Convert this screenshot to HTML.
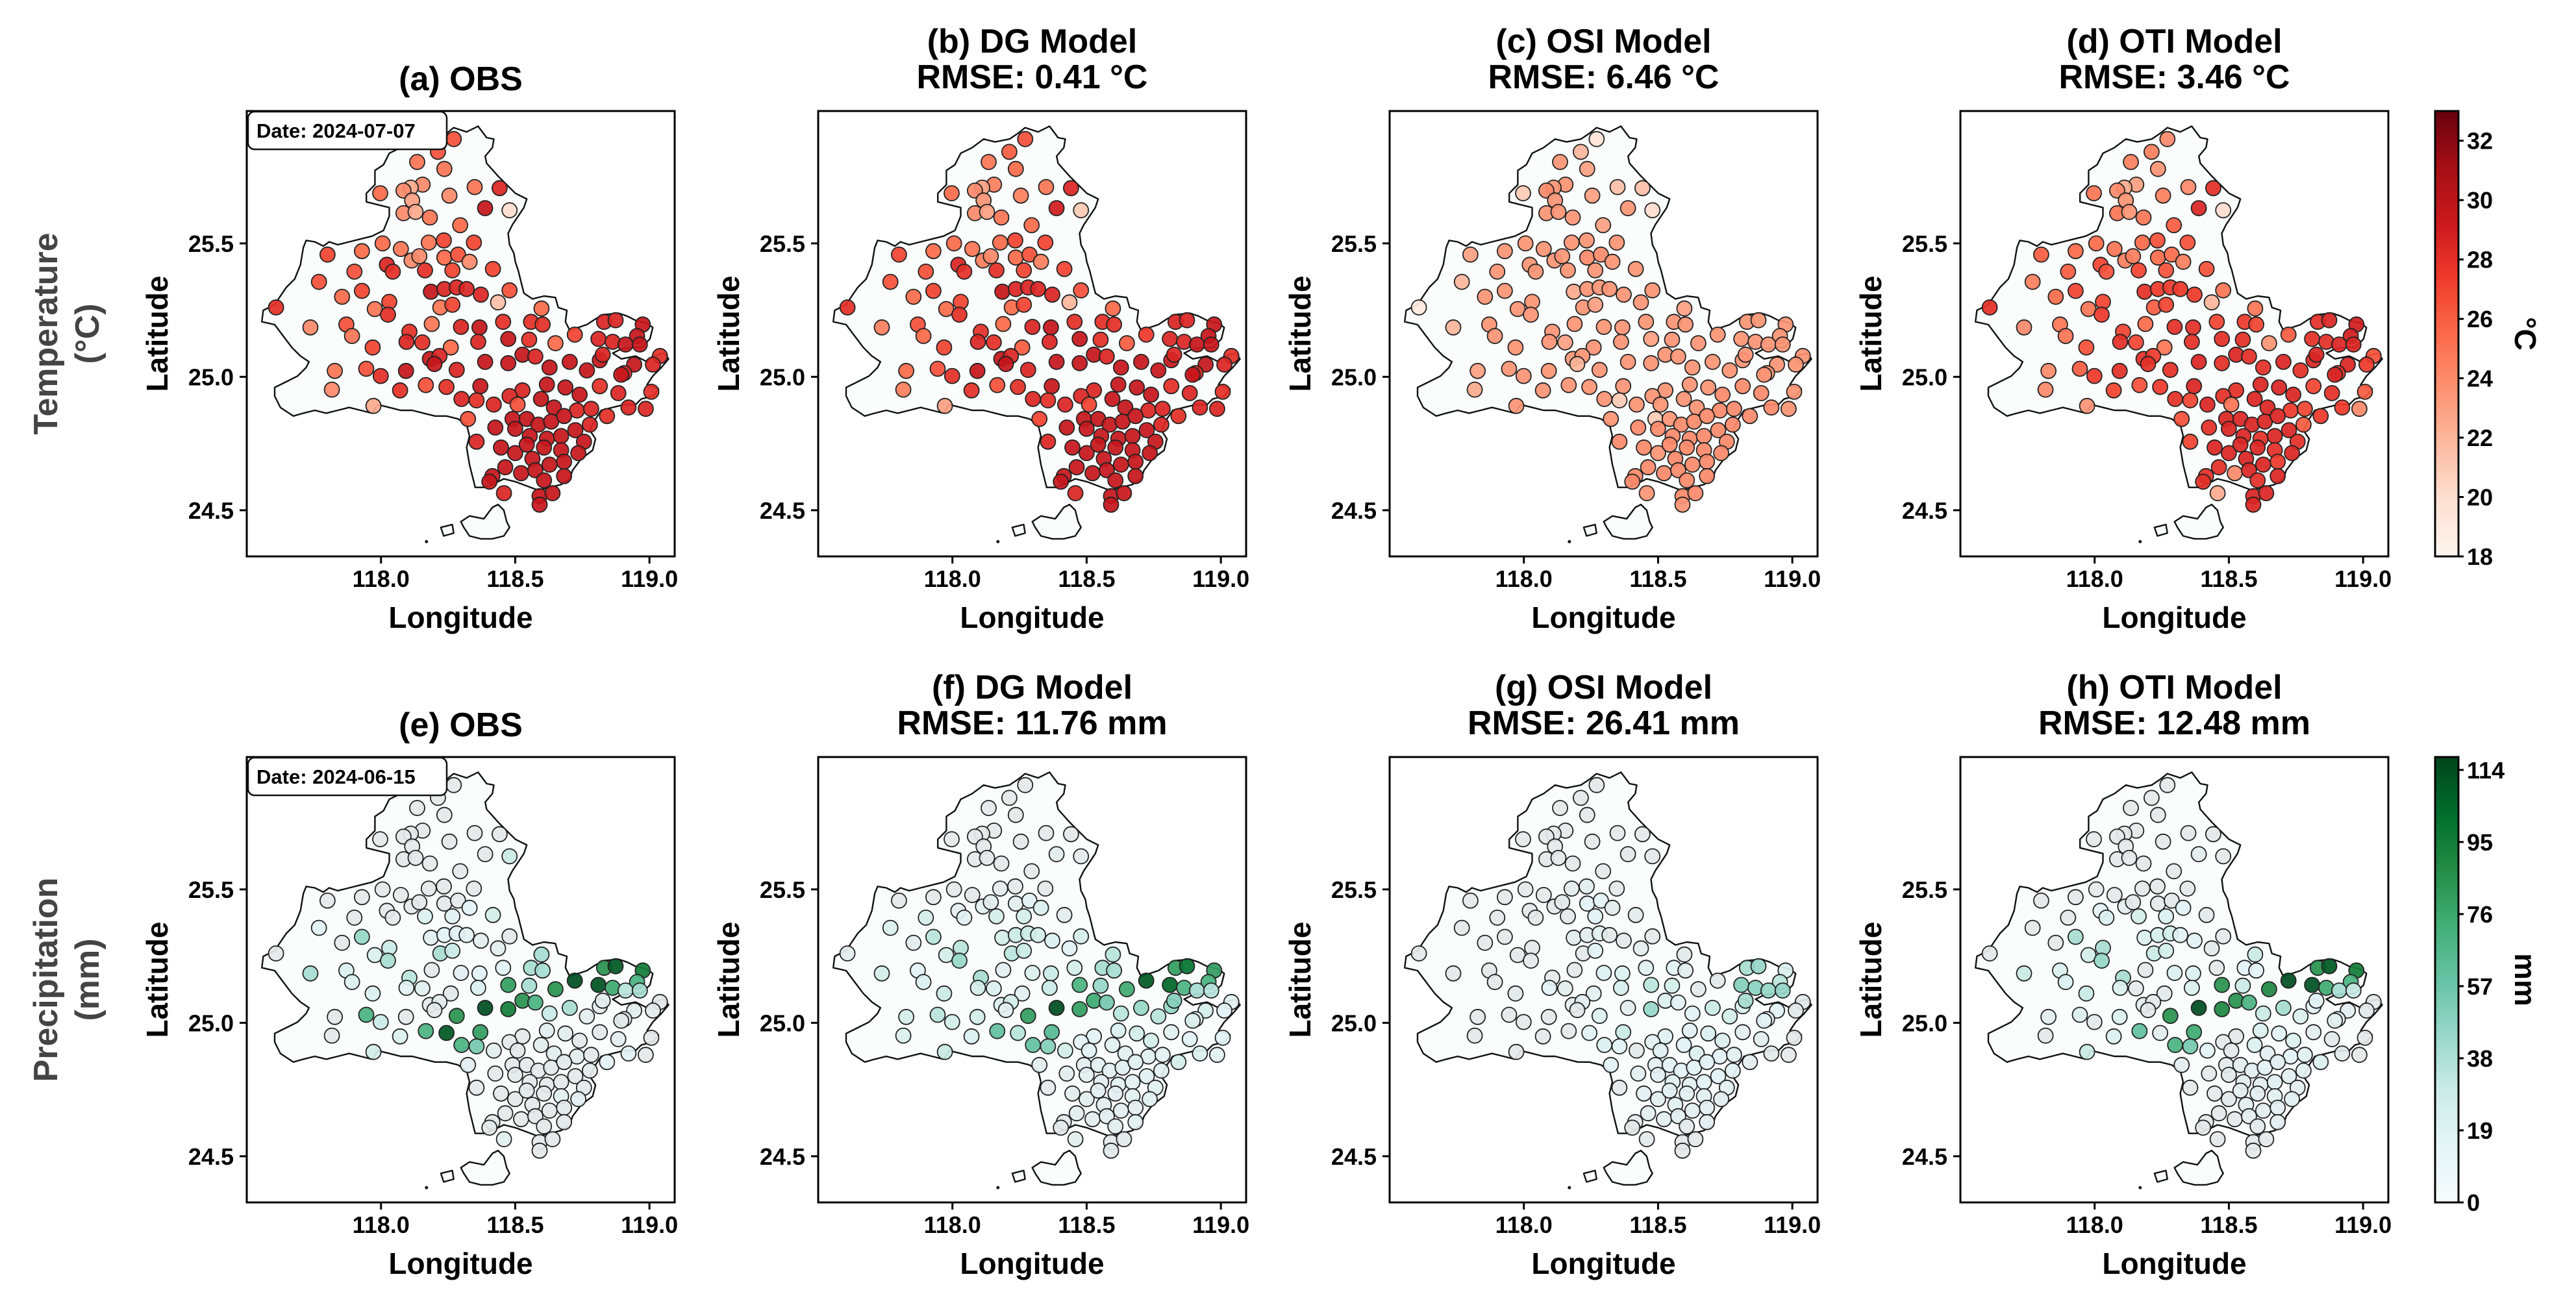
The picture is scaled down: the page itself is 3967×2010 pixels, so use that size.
<!DOCTYPE html>
<html><head><meta charset="utf-8"><title>Station maps</title>
<style>
html,body{margin:0;padding:0;background:#fff;}
svg text{font-family:"Liberation Sans",Arial,sans-serif;font-weight:bold;}
</style></head>
<body>
<svg id="fig" xmlns="http://www.w3.org/2000/svg" width="3967" height="2005" viewBox="0 0 3967 2005">
<rect width="3967" height="2005" fill="#fff"/>
<defs>
<linearGradient id="gReds" x1="0" y1="1" x2="0" y2="0"></linearGradient>
<linearGradient id="gBuGn" x1="0" y1="1" x2="0" y2="0"></linearGradient>
</defs>
<g id="root"></g>
</svg>
<script>
// ---------- data ----------
const stationLon=[118.271,118.212,118.135,118.236,118.349,118.442,118.155,118.111,118.084,117.997,118.255,118.116,118.388,118.479,118.084,118.129,118.182,118.295,118.006,118.074,118.178,118.234,118.346,117.929,117.801,118.114,118.143,118.236,118.287,118.330,118.022,118.044,118.164,118.266,118.417,117.901,117.769,117.929,117.855,118.186,118.236,118.282,118.319,118.372,118.479,118.031,117.977,118.026,118.221,118.266,118.436,118.598,117.609,117.737,117.871,117.892,118.189,118.106,118.095,118.154,118.298,118.367,118.455,118.559,118.602,118.722,118.831,118.874,118.975,118.954,118.810,118.863,118.911,118.964,118.362,118.474,118.552,118.650,117.969,118.260,118.182,118.218,118.199,118.388,118.474,118.527,118.575,118.628,118.703,118.767,118.815,118.826,119.039,119.013,118.943,118.906,117.828,117.945,117.999,118.093,118.282,117.817,118.071,118.167,118.244,118.370,118.527,118.618,118.687,118.740,118.815,118.884,119.007,118.895,117.972,118.300,118.356,118.420,118.479,118.509,118.596,118.644,118.730,118.783,118.842,118.922,118.986,118.324,118.490,118.543,118.586,118.634,118.682,118.426,118.500,118.554,118.618,118.671,118.724,118.778,118.756,118.356,118.447,118.500,118.543,118.607,118.671,118.735,118.463,118.564,118.628,118.682,118.415,118.522,118.575,118.682,118.404,118.607,118.458,118.591,118.639,118.591];
const stationLat=[25.891,25.843,25.805,25.779,25.711,25.707,25.720,25.709,25.698,25.688,25.679,25.661,25.632,25.624,25.613,25.618,25.597,25.568,25.500,25.479,25.503,25.511,25.503,25.471,25.458,25.436,25.452,25.447,25.458,25.431,25.420,25.394,25.399,25.399,25.404,25.394,25.356,25.322,25.300,25.319,25.329,25.335,25.329,25.308,25.324,25.281,25.254,25.233,25.260,25.270,25.279,25.256,25.260,25.185,25.196,25.153,25.198,25.169,25.131,25.129,25.187,25.185,25.206,25.206,25.196,25.158,25.206,25.212,25.196,25.153,25.142,25.131,25.121,25.121,25.131,25.142,25.139,25.126,25.110,25.110,25.067,25.078,25.048,25.056,25.051,25.083,25.076,25.035,25.056,25.024,25.062,25.083,25.078,25.046,25.046,25.014,25.022,25.030,25.003,25.022,25.026,24.952,24.949,24.969,24.962,24.965,24.949,24.971,24.960,24.933,24.965,24.939,24.944,25.008,24.891,24.917,24.912,24.896,24.928,24.896,24.917,24.885,24.874,24.880,24.853,24.885,24.880,24.842,24.842,24.842,24.821,24.832,24.853,24.810,24.805,24.778,24.768,24.778,24.800,24.821,24.757,24.757,24.735,24.714,24.746,24.735,24.725,24.714,24.661,24.693,24.671,24.682,24.628,24.639,24.650,24.628,24.607,24.612,24.564,24.553,24.564,24.521];

const tempObs=[26.5,26.5,25,25,25,28.5,24,22.5,24,25.5,24,23,29.5,20,24,22.5,25,25.5,25.5,25,25,27,27,25.5,27,24,24,25.5,26.5,24,28.5,28,28,27,27,26.5,26.5,27,25.5,29.5,28.5,28.5,28.5,28.5,26.5,27,25,28,25,27,21.5,25.5,28,24,26.5,25,25,28,28.5,28,28.5,29.5,28,28,28,27,28.5,28.5,29.5,29.5,28.5,28.5,29.5,29.5,28.5,29.5,28,25.5,27,25.5,29.5,28.5,29.5,29.5,29.5,29.5,28.5,29.5,29.5,29.5,29.5,28.5,28,28.5,29.5,28.5,25,26.5,28,29.5,28.5,24,28,26.5,28,29.5,28.5,29.5,29.5,29.5,28,28.5,28,29.5,22.5,28.5,28,28.5,28.5,26.5,29.5,29.5,28.5,28.5,28,28.5,28.5,26.5,29.5,29.5,29.5,29.5,29.5,29.5,29.5,29.5,29.5,29.5,29.5,28.5,29.5,28.5,29.5,29.5,29.5,29.5,29.5,29.5,29.5,29.5,29.5,29.5,29.5,29.5,29.5,29.5,29.5,29.5,28.5,29.5,29.5,29.5];
const tempDG=[26.5,26,25,25.5,25,28.5,24.5,23,24,25.5,24.5,23.5,29,21,24,23,25,25.5,25.5,25,25.5,27,27,25.5,27,24.5,24,25.5,26.5,24.5,28.5,28,28,27,27,26.5,26.5,27,25.5,29.5,28.5,28.5,28.5,28.5,26.5,27,25.5,28,25.5,27,22,25.5,28,24.5,26.5,25.5,25.5,28,28.5,28,28.5,29.5,28,28,28,27.5,28.5,28.5,29.5,29.5,28.5,28.5,29.5,29.5,28.5,29.5,28,26,27,26,29.5,28.5,29.5,29.5,29.5,29.5,28.5,29.5,29.5,29.5,29.5,28.5,28,28.5,29.5,28.5,25.5,26.5,28,29.5,28.5,24.5,28,26.5,28,29.5,28.5,29.5,29.5,29.5,28,28.5,28,29.5,23,28.5,28,28.5,28.5,27,29.5,29.5,28.5,28.5,28,28.5,28.5,27,29.5,29.5,29.5,29.5,29.5,29.5,29.5,29.5,29.5,29.5,29.5,28.5,29.5,28.5,29.5,29.5,29.5,29.5,29.5,29.5,29.5,29.5,29.5,29.5,29.5,29.5,29.5,29.5,29.5,29.5,28.5,29.5,29.5,29.5];
const tempOSI=[19.5,22,23.5,23,21.5,21.5,23.5,23.5,24,21,23,23.5,23.5,20,23.5,23.5,23.5,23,23.5,23.5,23.5,23.5,23.5,23.5,23,23.5,23.5,24,24,23.5,23.5,23.5,23.5,23.5,23.5,23.5,22,23.5,23.5,22.5,23.5,23.5,23.5,23.5,23.5,23.5,23.5,23.5,23.5,23,23.5,23,19,22,23.5,23.5,23.5,23.5,23.5,23,23.5,23.5,23.5,23.5,23.5,23.5,23.5,23.5,23.5,23.5,23.5,23.5,23.5,23.5,23.5,23,23.5,23.5,23.5,23.5,23.5,23.5,22,23.5,23.5,23.5,23.5,23.5,23.5,23.5,23.5,23.5,23.5,23.5,23.5,23.5,23,23.5,23.5,23.5,23.5,22.5,23.5,23.5,23.5,23.5,23.5,23.5,23.5,24,24,24,23.5,23.5,23.5,23.5,21,23.5,23.5,23.5,23.5,23.5,24,24,24,24,23.5,23.5,21,23.5,24,24,24,24,24,24,24,24,24,24,24,24,24,23.5,24,24,24,24,24,24,24,24,24,24,24,24,24,24,23.5,24,24,23.5,24,23.5];
const tempOTI=[24,24.5,24.5,23.5,24,28,23,22.5,24,25,24.5,23.5,28.5,20,25,23.5,25,26,25.5,25,25.5,26.5,26.5,25.5,26,24.5,24.5,25.5,25.5,24.5,27,26.5,27,26.5,26.5,26,24.5,27,25.5,28,27.5,27.5,27.5,27.5,25,27,25,27.5,26,27,22,25,28,24,25,25,25.5,27,28,27,28,28,27,27.5,27,26,28,28.5,29,29,28,28,28.5,28.5,28,28,28,23.5,26.5,25,28,27.5,28,28.5,28,28.5,28,28,28.5,28,28.5,28.5,26.5,27.5,28.5,28,24,26,27.5,28,28,24,27,26.5,27.5,28.5,28,28.5,28.5,28.5,27,28,26,28.5,23.5,28,27,28.5,28,25,28.5,28.5,27.5,27,27.5,27.5,24,26.5,28.5,28.5,28.5,28.5,28.5,28,28.5,28.5,28,28.5,28.5,26,28,27,28.5,28.5,28.5,28.5,28,28.5,28,28.5,28.5,27.5,28,24,28.5,28.5,28,28,22.5,28.5,28.5,28.5,23.5,28.5];

const precObs=[2,2,2,2,2,2,2,2,2,2,2,2,3,30,2,2,2,2,2,2,2,3,2,2,2,3,3,3,3,15,3,3,20,12,25,3,15,45,3,12,15,15,12,10,5,30,20,40,40,30,8,40,3,40,20,20,3,35,15,12,10,15,15,40,40,114,85,110,95,70,112,75,35,40,20,80,40,85,20,5,5,8,3,114,95,85,70,30,40,10,8,8,3,5,8,5,3,70,30,3,85,3,20,70,110,80,3,10,8,5,5,10,3,5,25,70,55,8,3,3,8,8,8,5,15,15,3,10,5,5,5,5,5,5,5,5,5,5,5,5,5,3,3,3,5,5,12,10,4,4,4,4,4,4,4,4,4,4,12,3,3,3];
const precDG=[2,2,2,2,3,2,2,2,2,2,2,2,8,6,2,2,2,2,2,2,6,5,2,2,2,12,8,8,15,20,10,12,25,25,8,25,20,35,8,25,30,30,25,20,25,35,25,45,35,30,15,35,8,25,15,20,10,40,25,20,20,30,25,40,40,110,80,100,80,70,105,70,40,35,30,70,45,75,30,12,20,25,12,114,80,75,55,35,45,35,45,50,12,15,25,12,25,35,25,25,80,20,20,60,35,65,15,20,25,25,12,15,15,20,30,60,50,25,15,15,12,12,12,12,25,20,12,8,10,12,12,12,12,8,10,10,12,12,12,12,12,5,8,8,10,10,12,12,8,8,10,10,5,8,10,12,5,8,8,5,5,5];
const precOSI=[2,2,2,2,2,2,2,2,2,2,2,2,2,3,2,2,2,2,2,2,6,8,2,2,2,2,4,15,15,6,2,2,4,15,6,2,2,2,2,8,8,12,4,4,3,3,3,3,3,15,8,4,2,2,3,3,3,3,15,8,18,18,12,15,8,4,40,45,20,35,50,48,45,45,22,35,25,4,5,12,10,10,3,10,45,20,15,15,30,25,20,40,5,5,15,10,3,3,3,3,20,3,5,3,15,30,12,12,20,20,10,8,3,15,3,20,15,5,12,12,15,20,15,12,8,5,3,15,10,15,15,15,15,10,10,12,12,15,15,15,12,5,10,10,12,12,12,10,10,12,10,10,5,10,10,10,3,5,5,3,3,3];
const precOTI=[2,2,2,2,3,2,2,2,2,2,2,2,8,2,2,2,2,2,2,2,3,3,2,2,2,8,3,3,3,15,15,20,25,20,5,3,3,40,3,18,25,25,15,15,5,40,25,45,30,25,5,30,3,30,20,20,3,40,20,3,20,20,3,15,15,114,85,110,95,70,112,75,40,30,20,85,30,90,30,5,8,5,3,114,90,85,70,30,40,20,15,15,3,5,10,10,10,20,5,20,85,3,20,60,8,75,3,20,15,20,10,5,3,12,30,70,55,15,3,5,20,10,15,12,20,5,3,10,5,10,10,15,10,5,5,8,10,12,10,12,10,3,5,5,10,10,12,12,3,10,10,10,3,5,10,10,3,5,3,3,3,3];

const panelTitlesTop=["(a) OBS","(b) DG Model","(c) OSI Model","(d) OTI Model"];
const panelRmseTop=["","RMSE: 0.41 °C","RMSE: 6.46 °C","RMSE: 3.46 °C"];
const panelTitlesBot=["(e) OBS","(f) DG Model","(g) OSI Model","(h) OTI Model"];
const panelRmseBot=["","RMSE: 11.76 mm","RMSE: 26.41 mm","RMSE: 12.48 mm"];
const lonTicks=[118.0,118.5,119.0];
const latTicks=[24.5,25.0,25.5];
const tempCbarTicks=[18,20,22,24,26,28,30,32];
const precCbarTicks=[0,19,38,57,76,95,114];

// ---------- geometry ----------
const NS='http://www.w3.org/2000/svg';
const root=document.getElementById('root');
const panelLeft=[380,1260,2140,3019];
const rowTop=[171,1166];
const PW=659, PH=686;
const lonMin=117.5, lonMax=119.094, latMin=24.327, latMax=25.996;
const tempMin=18, tempMax=33, precMin=0, precMax=117.4;

function el(tag,attrs,parent,text){
  const e=document.createElementNS(NS,tag);
  for(const k in attrs) e.setAttribute(k,attrs[k]);
  if(text!==undefined) e.textContent=text;
  (parent||root).appendChild(e);
  return e;
}
function xScale(L,lon){return L+(lon-lonMin)/(lonMax-lonMin)*PW;}
function yScale(T,lat){return T+(latMax-lat)/(latMax-latMin)*PH;}

const redsStops=['#fff5f0','#fee0d2','#fcbba1','#fc9272','#fb6a4a','#ef3b2c','#cb181d','#a50f15','#67000d'];
const bugnStops=['#e4e6e6','#e2f2f4','#ccece6','#99d8c9','#66c2a4','#41ae76','#238b45','#006d2c','#00441b'];
const bugnBar=['#f7fcfd','#e5f5f9','#ccece6','#99d8c9','#66c2a4','#41ae76','#238b45','#006d2c','#00441b'];
function hex(h){return [parseInt(h.slice(1,3),16),parseInt(h.slice(3,5),16),parseInt(h.slice(5,7),16)];}
function cmap(stops,t){
  t=Math.max(0,Math.min(1,t));
  const p=t*(stops.length-1), i=Math.min(stops.length-2,Math.floor(p)), f=p-i;
  const a=hex(stops[i]), b=hex(stops[i+1]);
  return 'rgb('+a.map((v,k)=>Math.round(v+(b[k]-v)*f)).join(',')+')';
}
['gReds','gBuGn'].forEach((id,j)=>{
  const g=document.getElementById(id), st=j?bugnBar:redsStops;
  st.forEach((c,i)=>{const s=document.createElementNS(NS,'stop');s.setAttribute('offset',i/(st.length-1));s.setAttribute('stop-color',c);g.appendChild(s);});
});

const outlineU=[[745,60],[790,75],[830,55],[860,95],[885,100],[880,130],[855,160],[860,185],[900,230],[930,260],[960,290],[1000,310],[990,340],[970,370],[950,400],[935,430],[940,470],[955,500],[960,530],[970,560],[980,600],[990,640],[1020,660],[1060,650],[1100,655],[1110,690],[1140,700],[1135,740],[1150,770],[1180,760],[1210,750],[1240,730],[1270,715],[1320,710],[1350,720],[1380,735],[1420,745],[1440,760],[1430,800],[1400,830],[1370,830],[1330,835],[1300,850],[1330,870],[1380,860],[1420,880],[1440,860],[1480,850],[1495,870],[1470,900],[1440,930],[1420,960],[1460,975],[1440,1000],[1400,1010],[1380,1030],[1340,1030],[1300,1040],[1260,1050],[1240,1080],[1220,1120],[1240,1150],[1230,1190],[1190,1220],[1160,1260],[1150,1290],[1120,1310],[1080,1320],[1040,1330],[1000,1315],[960,1300],[920,1290],[880,1310],[850,1320],[820,1320],[810,1280],[800,1240],[790,1180],[800,1140],[790,1100],[760,1080],[720,1070],[680,1070],[640,1060],[600,1050],[560,1050],[520,1040],[480,1030],[460,1060],[420,1050],[380,1040],[340,1050],[300,1060],[260,1050],[220,1060],[185,1070],[140,1040],[120,1000],[120,970],[160,950],[200,930],[230,900],[240,880],[210,860],[180,830],[150,790],[120,750],[75,740],[80,700],[120,680],[140,650],[160,620],[190,590],[210,540],[220,480],[230,455],[260,460],[290,475],[310,460],[340,470],[380,460],[420,450],[460,440],[500,420],[520,370],[520,340],[480,330],[440,320],[440,290],[470,260],[470,210],[500,190],[520,150],[560,130],[600,100],[640,110],[690,100],[720,80]];
const islandU=[[770,1440],[800,1420],[850,1430],[880,1390],[900,1380],[920,1400],[930,1440],[940,1460],[920,1490],[880,1500],[840,1500],[800,1490],[780,1460]];
const islet2U=[[700,1460],[740,1450],[745,1480],[710,1490]];
function uLon(X){return 117.476+0.001067*X;}
function uLat(Y){return 25.998-0.00107*Y;}
function polyPath(L,T,pts){return 'M'+pts.map(p=>xScale(L,uLon(p[0])).toFixed(1)+','+yScale(T,uLat(p[1])).toFixed(1)).join('L')+'Z';}

function drawPanel(row,col,values,isTemp,title,rmse,dateText){
  const L=panelLeft[col], T=rowTop[row];
  const g=el('g',{});
  
  
  el('rect',{x:L,y:T,width:PW,height:PH,fill:'#fff'},g);
  const ol=el('path',{d:polyPath(L,T,outlineU)+polyPath(L,T,islandU)+polyPath(L,T,islet2U),fill:'#fbfdfd',stroke:'#111','stroke-width':2.4,'stroke-linejoin':'round'},g);
  
  
  el('circle',{cx:xScale(L,uLon(650)),cy:yScale(T,uLat(1510)),r:2.5,fill:'#111'},g);
  for(let i=0;i<stationLon.length;i++){
    const v=values[i];
    const t=isTemp?(v-tempMin)/(tempMax-tempMin):(v-precMin)/(precMax-precMin);
    const c=el('circle',{cx:xScale(L,stationLon[i]).toFixed(1),cy:yScale(T,stationLat[i]).toFixed(1),r:11.5,fill:cmap(isTemp?redsStops:bugnStops,t),'fill-opacity':0.93,stroke:'#222','stroke-width':1.8},g);
    
    
  }
  el('rect',{x:L,y:T,width:PW,height:PH,fill:'none',stroke:'#000','stroke-width':3},g);
  lonTicks.forEach(v=>{
    const x=xScale(L,v);
    el('line',{x1:x,y1:T+PH,x2:x,y2:T+PH+11,stroke:'#000','stroke-width':3},g);
    const tl=el('text',{x:x,y:T+PH+47,'text-anchor':'middle','font-size':36},g,v.toFixed(1));
    
    
  });
  latTicks.forEach(v=>{
    const y=yScale(T,v);
    el('line',{x1:L,y1:y,x2:L-11,y2:y,stroke:'#000','stroke-width':3},g);
    const tl=el('text',{x:L-20,y:y+13,'text-anchor':'end','font-size':36},g,v.toFixed(1));
    
    
  });
  const xl=el('text',{x:L+PW/2,y:T+PH+110,'text-anchor':'middle','font-size':46},g,'Longitude');
  
  
  const yl=el('text',{x:0,y:0,'text-anchor':'middle','font-size':46,transform:'translate('+(L-122)+','+(T+PH/2)+') rotate(-90)'},g,'Latitude');
  
  
  if(rmse){
    const t1=el('text',{x:L+PW/2,y:T-90,'text-anchor':'middle','font-size':52},g,title);
    
    
    const t2=el('text',{x:L+PW/2,y:T-35,'text-anchor':'middle','font-size':52},g,rmse);
    
    
  } else {
    const t1=el('text',{x:L+PW/2,y:T-32,'text-anchor':'middle','font-size':52},g,title);
    
    
  }
  if(dateText){
    const db=el('rect',{x:L+2,y:T+1,width:306,height:58,rx:10,fill:'#fff',stroke:'#111','stroke-width':2.5},g);
    
    
    el('text',{x:L+15,y:T+41,'font-size':31},g,dateText);
  }
}

const topVals=[tempObs,tempDG,tempOSI,tempOTI];
const botVals=[precObs,precDG,precOSI,precOTI];
for(let c=0;c<4;c++){
  drawPanel(0,c,topVals[c],true,panelTitlesTop[c],panelRmseTop[c],c===0?'Date: 2024-07-07':null);
  drawPanel(1,c,botVals[c],false,panelTitlesBot[c],panelRmseBot[c],c===0?'Date: 2024-06-15':null);
}

[['Temperature','(°C)'],['Precipitation','(mm)']].forEach((lbl,r)=>{
  const cy=rowTop[r]+PH/2;
  const a=el('text',{x:0,y:0,'text-anchor':'middle','font-size':52,fill:'#444',transform:'translate(88,'+cy+') rotate(-90)'},root,lbl[0]);
  
  
  const b=el('text',{x:0,y:0,'text-anchor':'middle','font-size':52,fill:'#444',transform:'translate(152,'+cy+') rotate(-90)'},root,lbl[1]);
  
  
});

function drawCbar(r,grad,ticks,vmin,vmax,label){
  const T=rowTop[r], X=3750, W=36;
  const g=el('g',{});
  
  
  el('rect',{x:X,y:T,width:W,height:PH,fill:'url(#'+grad+')',stroke:'#000','stroke-width':3},g);
  ticks.forEach(v=>{
    const y=T+PH-(v-vmin)/(vmax-vmin)*PH;
    el('line',{x1:X+W,y1:y,x2:X+W+8,y2:y,stroke:'#000','stroke-width':3},g);
    const t=el('text',{x:X+W+13,y:y+13,'font-size':36},g,String(v));
    
    
  });
  const lb=el('text',{x:0,y:0,'text-anchor':'middle','font-size':46,transform:'translate(3873,'+(T+PH/2)+') rotate(90)'},g,label);
  
  
}
drawCbar(0,'gReds',tempCbarTicks,tempMin,tempMax,'°C');
drawCbar(1,'gBuGn',precCbarTicks,precMin,precMax,'mm');
</script>
</body></html>
